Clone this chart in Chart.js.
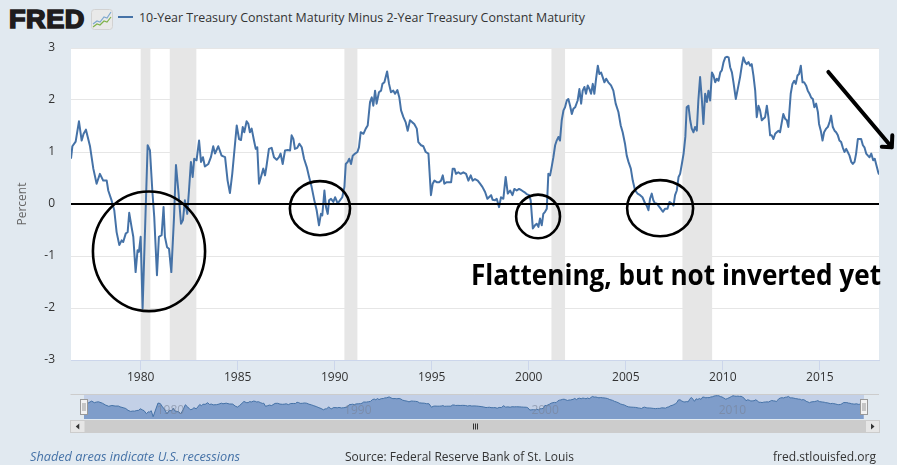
<!DOCTYPE html>
<html>
<head>
<meta charset="utf-8">
<script src="https://cdn.jsdelivr.net/npm/chart.js@4.4.1/dist/chart.umd.min.js"></script>
<style>
  body { margin: 0; background: #e1e9f0; width: 897px; height: 465px; overflow: hidden; position: relative; font-family: "Open Sans", sans-serif; }
  .txt { position: absolute; white-space: nowrap; line-height: 1; }
  #chart { position: absolute; left: 0; top: 0; }
  #nav { position: absolute; left: 70px; top: 393px; }
</style>
</head>
<body>
<div class="txt" id="logo" style="left:9px;top:6px;font-family:'Liberation Sans',Arial,sans-serif;font-weight:900;font-size:26px;color:#1f1c1d;-webkit-text-stroke:1.6px #1f1c1d;letter-spacing:0.5px;">FRED</div>
<svg style="position:absolute;left:91px;top:9px" width="22" height="21" viewBox="0 0 22 21">
  <rect x="0.5" y="0.5" width="21" height="20" rx="3" fill="#e9e9e9" stroke="#d2d2d2"/>
  <polyline points="2,15 6,12 9,13 13,8 16,9 20,3" fill="none" stroke="#7ea7cf" stroke-width="1.2"/>
  <polyline points="2,18 6,15 9,16 13,12 16,13 20,8" fill="none" stroke="#7fb24a" stroke-width="1.2"/>
</svg>
<div style="position:absolute;left:118px;top:16px;width:15px;height:2px;background:#4572a7"></div>
<div class="txt" id="title" style="left:139px;top:12px;font-size:12px;color:#333">10-Year Treasury Constant Maturity Minus 2-Year Treasury Constant Maturity</div>

<canvas id="chart" width="897" height="465"></canvas>
<canvas id="nav" width="810" height="42"></canvas>

<div class="txt" id="note" style="left:471px;top:259px;font-size:29px;font-weight:bold;color:#000">Flattening, but not inverted yet</div>
<div class="txt" id="shaded" style="left:30px;top:451px;font-size:12px;font-style:italic;color:#4572a7">Shaded areas indicate U.S. recessions</div>
<div class="txt" id="source" style="left:345px;top:451px;font-size:12px;color:#333">Source: Federal Reserve Bank of St. Louis</div>
<div class="txt" id="site" style="left:773px;top:451px;font-size:12px;color:#333">fred.stlouisfed.org</div>

<script>
// data (decimal year, percent)
const years = [
  1976.41, 1976.48, 1976.65, 1976.82, 1976.96, 1977.06, 1977.18, 1977.39, 1977.56, 1977.73,
  1977.90, 1978.07, 1978.25, 1978.33, 1978.50, 1978.64, 1978.76, 1978.90, 1979.02, 1979.10,
  1979.23, 1979.33, 1979.41, 1979.53, 1979.62, 1979.74, 1979.84, 1979.91, 1980.00, 1980.10,
  1980.36, 1980.48, 1980.60, 1980.70, 1980.84, 1980.94, 1981.08, 1981.18, 1981.25, 1981.36,
  1981.46, 1981.58, 1981.72, 1981.82, 1981.94, 1982.08, 1982.18, 1982.28, 1982.40, 1982.49,
  1982.59, 1982.68, 1982.76, 1982.88, 1983.01, 1983.11, 1983.21, 1983.31, 1983.49, 1983.62,
  1983.74, 1983.83, 1984.00, 1984.17, 1984.35, 1984.48, 1984.60, 1984.72, 1984.95, 1985.07,
  1985.17, 1985.26, 1985.34, 1985.46, 1985.55, 1985.63, 1985.72, 1985.84, 1985.93, 1986.01,
  1986.10, 1986.20, 1986.32, 1986.41, 1986.49, 1986.61, 1986.75, 1986.87, 1987.01, 1987.13,
  1987.21, 1987.32, 1987.44, 1987.58, 1987.70, 1987.78, 1987.87, 1987.95, 1988.07, 1988.18,
  1988.30, 1988.42, 1988.56, 1988.68, 1988.81, 1988.95, 1989.07, 1989.19, 1989.29, 1989.36,
  1989.47, 1989.55, 1989.64, 1989.71, 1989.81, 1989.93, 1990.02, 1990.15, 1990.27, 1990.39,
  1990.50, 1990.57, 1990.67, 1990.75, 1990.84, 1990.93, 1991.05, 1991.17, 1991.25, 1991.34,
  1991.48, 1991.60, 1991.70, 1991.82, 1991.91, 1991.99, 1992.08, 1992.16, 1992.28, 1992.39,
  1992.46, 1992.56, 1992.70, 1992.80, 1992.90, 1993.02, 1993.11, 1993.23, 1993.33, 1993.42,
  1993.54, 1993.66, 1993.76, 1993.88, 1994.00, 1994.10, 1994.23, 1994.31, 1994.45, 1994.57,
  1994.69, 1994.83, 1994.96, 1995.05, 1995.14, 1995.26, 1995.38, 1995.48, 1995.57, 1995.65,
  1995.77, 1995.89, 1996.00, 1996.08, 1996.17, 1996.25, 1996.37, 1996.49, 1996.63, 1996.77,
  1996.89, 1997.01, 1997.11, 1997.23, 1997.37, 1997.49, 1997.61, 1997.75, 1997.87, 1997.95,
  1998.06, 1998.14, 1998.26, 1998.35, 1998.47, 1998.57, 1998.69, 1998.81, 1998.92, 1999.04,
  1999.16, 1999.26, 1999.38, 1999.50, 1999.64, 1999.77, 1999.89, 2000.02, 2000.10, 2000.21,
  2000.32, 2000.41, 2000.50, 2000.58, 2000.67, 2000.75, 2000.84, 2000.93, 2001.01, 2001.10,
  2001.18, 2001.27, 2001.36, 2001.44, 2001.53, 2001.61, 2001.70, 2001.79, 2001.87, 2001.96,
  2002.04, 2002.13, 2002.22, 2002.30, 2002.39, 2002.52, 2002.61, 2002.70, 2002.78, 2002.87,
  2002.95, 2003.04, 2003.13, 2003.21, 2003.30, 2003.38, 2003.47, 2003.56, 2003.64, 2003.73,
  2003.81, 2003.90, 2003.99, 2004.10, 2004.24, 2004.36, 2004.48, 2004.62, 2004.74, 2004.84,
  2004.96, 2005.05, 2005.14, 2005.26, 2005.36, 2005.48, 2005.61, 2005.74, 2005.86, 2006.00,
  2006.08, 2006.17, 2006.25, 2006.34, 2006.42, 2006.51, 2006.60, 2006.68, 2006.80, 2006.91,
  2007.03, 2007.15, 2007.25, 2007.37, 2007.46, 2007.54, 2007.63, 2007.72, 2007.80, 2007.89,
  2007.98, 2008.07, 2008.14, 2008.23, 2008.32, 2008.40, 2008.49, 2008.57, 2008.66, 2008.74,
  2008.83, 2008.92, 2009.00, 2009.09, 2009.18, 2009.26, 2009.35, 2009.44, 2009.52, 2009.61,
  2009.69, 2009.78, 2009.87, 2009.95, 2010.04, 2010.13, 2010.23, 2010.30, 2010.38, 2010.47,
  2010.55, 2010.67, 2010.77, 2010.89, 2010.98, 2011.06, 2011.15, 2011.23, 2011.32, 2011.41,
  2011.49, 2011.58, 2011.67, 2011.75, 2011.84, 2011.92, 2012.01, 2012.09, 2012.18, 2012.27,
  2012.35, 2012.44, 2012.52, 2012.61, 2012.70, 2012.78, 2012.87, 2012.95, 2013.04, 2013.12,
  2013.21, 2013.30, 2013.38, 2013.43, 2013.50, 2013.59, 2013.68, 2013.76, 2013.85, 2013.93,
  2014.02, 2014.11, 2014.19, 2014.29, 2014.38, 2014.47, 2014.55, 2014.64, 2014.72, 2014.81,
  2014.90, 2014.96, 2015.05, 2015.14, 2015.22, 2015.33, 2015.41, 2015.50, 2015.58, 2015.67,
  2015.76, 2015.84, 2015.93, 2016.01, 2016.10, 2016.18, 2016.27, 2016.36, 2016.44, 2016.53,
  2016.62, 2016.70, 2016.79, 2016.87, 2016.96, 2017.04, 2017.13, 2017.22, 2017.30, 2017.39,
  2017.48, 2017.56, 2017.65, 2017.75, 2017.83, 2017.92, 2018.01, 2018.04
];
const spread = [
  0.87, 1.11, 1.20, 1.59, 1.22, 1.35, 1.43, 1.11, 0.68, 0.39,
  0.58, 0.45, 0.45, 0.26, 0.07, -0.12, -0.54, -0.79, -0.70, -0.73,
  -0.57, -0.54, -0.17, -0.44, -0.63, -1.31, -0.89, -0.92, -0.63, -2.01,
  1.13, 1.03, 0.26, -0.25, -1.37, -0.63, -0.60, -0.06, -0.63, -0.83,
  -0.86, -1.31, -0.25, 0.75, 0.26, -0.38, -0.31, 0.07, -0.19, 0.26,
  0.81, 0.52, 0.87, 0.84, 1.22, 0.81, 0.90, 0.72, 0.77, 0.90,
  1.11, 0.97, 1.11, 0.93, 0.90, 0.45, 0.21, 0.58, 1.51, 1.25,
  1.23, 1.48, 1.38, 1.59, 1.54, 1.38, 1.45, 1.22, 1.06, 1.09,
  0.39, 0.52, 0.68, 0.55, 0.74, 1.06, 1.08, 0.90, 0.85, 0.90,
  0.97, 0.77, 1.03, 1.04, 1.03, 1.32, 1.25, 1.06, 1.08, 1.16,
  1.09, 0.87, 0.71, 0.52, 0.33, 0.07, -0.12, -0.41, -0.19, -0.22,
  0.26, -0.06, -0.19, 0.07, 0.10, 0.04, 0.13, 0.01, 0.07, 0.13,
  0.33, 0.77, 0.81, 0.87, 0.77, 0.93, 0.97, 1.00, 1.09, 1.38,
  1.35, 1.45, 1.51, 1.96, 2.05, 1.89, 2.18, 1.93, 2.15, 2.18,
  2.31, 2.34, 2.55, 2.31, 2.15, 2.18, 2.12, 2.19, 2.05, 1.80,
  1.67, 1.57, 1.41, 1.61, 1.57, 1.54, 1.45, 1.19, 1.13, 1.11,
  1.00, 0.97, 0.17, 0.39, 0.45, 0.42, 0.42, 0.45, 0.55, 0.39,
  0.42, 0.42, 0.42, 0.68, 0.68, 0.58, 0.61, 0.58, 0.61, 0.58,
  0.45, 0.55, 0.45, 0.48, 0.45, 0.39, 0.33, 0.23, 0.10, 0.13,
  0.17, 0.08, 0.07, 0.10, -0.06, 0.13, 0.10, 0.52, 0.20, 0.26,
  0.17, 0.29, 0.26, 0.29, 0.26, 0.23, 0.19, 0.17, 0.07, -0.47,
  -0.41, -0.38, -0.44, -0.28, -0.41, -0.19, -0.15, -0.09, 0.58, 0.55,
  0.71, 0.90, 1.13, 1.22, 1.29, 1.22, 1.61, 1.80, 1.86, 1.99,
  2.02, 1.89, 1.73, 1.83, 1.86, 1.99, 2.21, 1.93, 2.18, 2.25,
  2.12, 2.28, 2.21, 2.12, 2.31, 2.12, 2.41, 2.66, 2.50, 2.53,
  2.44, 2.34, 2.41, 2.34, 2.28, 2.18, 1.93, 1.77, 1.51, 1.38,
  1.16, 0.93, 0.81, 0.68, 0.45, 0.26, 0.20, 0.17, 0.13, 0.01,
  -0.03, -0.12, 0.10, 0.20, 0.07, 0.01, 0.01, -0.03, -0.09, -0.15,
  -0.09, -0.09, 0.04, 0.01, -0.03, 0.17, 0.26, 0.52, 0.58, 0.77,
  0.97, 1.29, 1.86, 1.89, 1.61, 1.45, 1.38, 1.48, 1.41, 1.99,
  2.44, 2.02, 1.54, 2.12, 1.96, 2.18, 1.99, 2.53, 2.47, 2.34,
  2.41, 2.37, 2.53, 2.57, 2.73, 2.82, 2.83, 2.82, 2.63, 2.53,
  2.34, 2.02, 2.21, 2.44, 2.66, 2.82, 2.73, 2.69, 2.73, 2.66,
  2.69, 2.47, 2.18, 1.67, 1.89, 1.80, 1.61, 1.64, 1.67, 1.89,
  1.67, 1.32, 1.32, 1.25, 1.35, 1.38, 1.41, 1.38, 1.57, 1.73,
  1.64, 1.61, 1.48, 1.77, 2.12, 2.31, 2.37, 2.31, 2.47, 2.50,
  2.66, 2.34, 2.34, 2.28, 2.18, 2.12, 2.05, 2.02, 1.86, 1.93,
  1.77, 1.54, 1.41, 1.22, 1.38, 1.45, 1.48, 1.57, 1.70, 1.48,
  1.41, 1.38, 1.32, 1.22, 1.19, 1.09, 1.00, 1.06, 1.00, 0.93,
  0.81, 0.77, 0.81, 0.97, 1.25, 1.25, 1.25, 1.13, 1.09, 0.97,
  0.93, 0.90, 0.97, 0.84, 0.87, 0.74, 0.61, 0.58
];
const yearTicks = [1980, 1985, 1990, 1995, 2000, 2005, 2010, 2015];
const navTicks = [1980, 1990, 2000, 2010];
const recessionStart = [1980.0, 1981.5, 1990.5, 2001.17, 2007.92];
const recessionEnd = [1980.5, 1982.87, 1991.17, 2001.87, 2009.45];

// hand drawn marks on the picture, in data units (centre year, centre value, half width in years, half height in percent)
const circles = [
  [1980.43, -0.91, 2.89, 1.15],
  [1989.24, -0.08, 1.55, 0.52],
  [2000.48, -0.24, 1.13, 0.42],
  [2006.77, -0.08, 1.70, 0.54]
];
const arrow = { from: [2015.44, 2.54], to: [2018.71, 1.09] };

const xMin = 1976.41;
const xMax = 2018.05;
const points = years.map((x, i) => ({ x: x, y: spread[i] }));

const plotBg = {
  id: "plotBg",
  beforeDraw(chart) {
    const { ctx, chartArea, scales } = chart;
    ctx.save();
    ctx.fillStyle = "#ffffff";
    ctx.fillRect(chartArea.left, chartArea.top, chartArea.width, chartArea.height);
    // recession shading
    ctx.fillStyle = "#e6e6e6";
    for (let i = 0; i < recessionStart.length; i++) {
      const a = scales.x.getPixelForValue(recessionStart[i]);
      const b = scales.x.getPixelForValue(recessionEnd[i]);
      ctx.fillRect(a, chartArea.top, b - a, chartArea.height);
    }
    ctx.restore();
  },
};

const marks = {
  id: "marks",
  afterDraw(chart) {
    const { ctx, chartArea, scales } = chart;
    const x = scales.x, y = scales.y;
    ctx.save();
    // zero line
    ctx.strokeStyle = "#000";
    ctx.lineWidth = 2;
    ctx.beginPath();
    ctx.moveTo(chartArea.left, y.getPixelForValue(0));
    ctx.lineTo(chartArea.right, y.getPixelForValue(0));
    ctx.stroke();
    // circles
    ctx.lineWidth = 2.6;
    circles.forEach((c) => {
      const cx = x.getPixelForValue(c[0]);
      const cy = y.getPixelForValue(c[1]);
      const rx = x.getPixelForValue(c[0] + c[2]) - cx;
      const ry = cy - y.getPixelForValue(c[1] + c[3]);
      ctx.beginPath();
      ctx.ellipse(cx, cy, rx, ry, 0, 0, Math.PI * 2);
      ctx.stroke();
    });
    // arrow
    const x1 = x.getPixelForValue(arrow.from[0]), y1 = y.getPixelForValue(arrow.from[1]);
    const x2 = x.getPixelForValue(arrow.to[0]), y2 = y.getPixelForValue(arrow.to[1]);
    ctx.lineWidth = 4;
    ctx.lineCap = "round";
    ctx.lineJoin = "round";
    ctx.beginPath();
    ctx.moveTo(x1, y1);
    ctx.lineTo(x2, y2);
    ctx.moveTo(x2 - 10, y2 - 0.5);
    ctx.lineTo(x2, y2);
    ctx.lineTo(x2 + 0.5, y2 - 12);
    ctx.stroke();
    ctx.restore();
  },
};

new Chart(document.getElementById("chart"), {
  type: "line",
  data: {
    datasets: [
      {
        label: "10-Year Treasury Constant Maturity Minus 2-Year Treasury Constant Maturity",
        data: points,
        borderColor: "#4572a7",
        borderWidth: 2,
        pointRadius: 0,
        tension: 0,
        borderJoinStyle: "round",
      },
    ],
  },
  options: {
    responsive: false,
    animation: false,
    events: [],
    layout: { padding: { left: 0, top: 48, right: 18, bottom: 75 } },
    plugins: { legend: { display: false }, tooltip: { enabled: false } },
    scales: {
      x: {
        type: "linear",
        min: xMin,
        max: xMax,
        afterBuildTicks: (s) => {
          s.ticks = yearTicks.map((v) => ({ value: v }));
        },
        afterFit: (s) => {
          s.height = 30;
        },
        ticks: {
          callback: (v) => String(v),
          color: "#333",
          font: { family: "Open Sans", size: 12 },
          maxRotation: 0,
          autoSkip: false,
          padding: 0,
        },
        grid: { drawOnChartArea: false, drawTicks: true, tickLength: 10, color: "#ccd6eb" },
        border: { color: "#ccd6eb" },
      },
      y: {
        min: -3,
        max: 3,
        afterFit: (s) => {
          s.width = 71;
        },
        ticks: {
          stepSize: 1,
          color: "#333",
          font: { family: "Open Sans", size: 12 },
          padding: 16,
        },
        grid: { color: "#e6e6e6", drawTicks: false },
        border: { display: false },
        title: {
          display: true,
          text: "Percent",
          color: "#666",
          font: { family: "Open Sans", size: 12 },
          padding: { top: 15, bottom: 0 },
        },
      },
    },
  },
  plugins: [plotBg, marks],
});

// navigator strip under the chart
const navDeco = {
  id: "navDeco",
  beforeDraw(chart) {
    const { ctx, chartArea, width } = chart;
    ctx.save();
    ctx.fillStyle = "#c3d0e7";
    ctx.fillRect(chartArea.left, chartArea.top, chartArea.width, chartArea.height);
    ctx.strokeStyle = "#cccccc";
    ctx.lineWidth = 1;
    ctx.beginPath();
    ctx.moveTo(0.5, 1.5);
    ctx.lineTo(width - 1, 1.5);
    ctx.stroke();
    ctx.restore();
  },
  afterDraw(chart) {
    const { ctx, chartArea, scales, width } = chart;
    ctx.save();
    // axis labels inside the strip
    ctx.fillStyle = "rgba(120,130,150,0.6)";
    ctx.font = "12px 'Open Sans'";
    ctx.textAlign = "left";
    ctx.textBaseline = "middle";
    navTicks.forEach((v) => {
      ctx.fillText(String(v), scales.x.getPixelForValue(v) + 5.5, 18);
    });
    // scrollbar
    const sy = 27, sh = 13;
    ctx.fillStyle = "#cccccc";
    ctx.fillRect(15, sy, width - 30, sh);
    [[0.5, 14.5], [width - 14.5, 14]].forEach(([bx, bw], i) => {
      ctx.fillStyle = "#e6e6e6";
      ctx.fillRect(bx, sy + 0.5, bw, sh - 1);
      ctx.strokeStyle = "#cccccc";
      ctx.strokeRect(bx, sy + 0.5, bw, sh - 1);
      const mx = bx + bw / 2, my = sy + sh / 2;
      ctx.fillStyle = "#333";
      ctx.beginPath();
      if (i === 0) {
        ctx.moveTo(mx - 2, my);
        ctx.lineTo(mx + 1.5, my - 3);
        ctx.lineTo(mx + 1.5, my + 3);
      } else {
        ctx.moveTo(mx + 2, my);
        ctx.lineTo(mx - 1.5, my - 3);
        ctx.lineTo(mx - 1.5, my + 3);
      }
      ctx.fill();
    });
    const gx = Math.round(width / 2) + 0.5;
    ctx.strokeStyle = "#333";
    ctx.lineWidth = 1;
    ctx.beginPath();
    for (let k = -2; k <= 2; k += 2) {
      ctx.moveTo(gx + k, sy + 3.5);
      ctx.lineTo(gx + k, sy + sh - 3.5);
    }
    ctx.stroke();
    // handles
    [chartArea.left, chartArea.right].forEach((hx) => {
      const x0 = Math.round(hx) - 3.5;
      ctx.fillStyle = "#f2f2f2";
      ctx.strokeStyle = "#999";
      ctx.fillRect(x0, 6.5, 7, 15);
      ctx.strokeRect(x0, 6.5, 7, 15);
      ctx.beginPath();
      ctx.moveTo(x0 + 2.5, 10);
      ctx.lineTo(x0 + 2.5, 18);
      ctx.moveTo(x0 + 4.5, 10);
      ctx.lineTo(x0 + 4.5, 18);
      ctx.stroke();
    });
    ctx.restore();
  },
};

new Chart(document.getElementById("nav"), {
  type: "line",
  data: {
    datasets: [
      {
        data: points,
        borderColor: "#4572a7",
        borderWidth: 1,
        backgroundColor: "#7f9dca",
        fill: "start",
        pointRadius: 0,
        tension: 0,
      },
    ],
  },
  options: {
    responsive: false,
    animation: false,
    events: [],
    layout: { padding: { left: 14, right: 16, top: 1, bottom: 16 } },
    plugins: { legend: { display: false }, tooltip: { enabled: false } },
    scales: {
      x: { type: "linear", min: xMin, max: xMax, display: false },
      y: { min: -2.53, max: 3.22, display: false },
    },
  },
  plugins: [navDeco],
});

// squeeze the html texts to the widths they have on the picture
const fitWidth = (id, w) => {
  const el = document.getElementById(id);
  el.style.transform = "none";
  const real = el.getBoundingClientRect().width;
  el.style.transformOrigin = "left top";
  el.style.transform = "scaleX(" + w / real + ")";
};
const fitAll = () => {
  fitWidth("logo", 76);
  fitWidth("title", 446);
  fitWidth("note", 410);
  fitWidth("shaded", 210);
  fitWidth("source", 229);
  fitWidth("site", 103);
};
fitAll();
document.fonts.ready.then(fitAll);
</script>
</body>
</html>
